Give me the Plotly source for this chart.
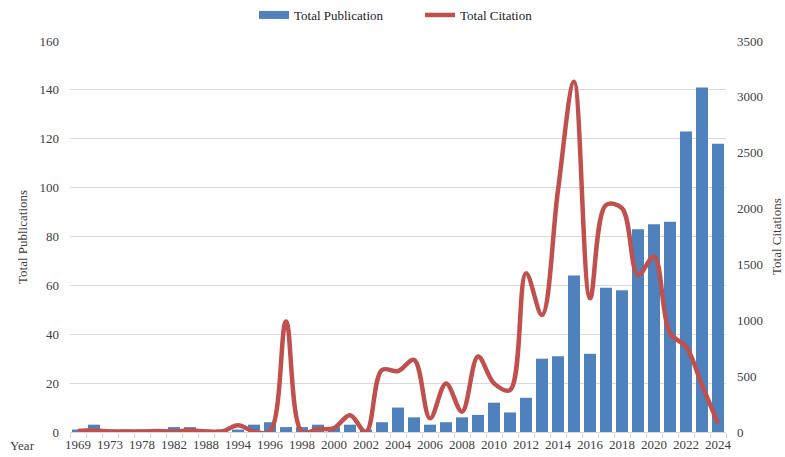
import plotly.graph_objects as go

years = ["1969", "1971", "1973", "1976", "1978", "1980", "1982", "1985", "1988", "1991",
         "1994", "1995", "1996", "1997", "1998", "1999", "2000", "2001", "2002", "2003",
         "2004", "2005", "2006", "2007", "2008", "2009", "2010", "2011", "2012", "2013",
         "2014", "2015", "2016", "2017", "2018", "2019", "2020", "2021", "2022", "2023", "2024"]

publications = [1, 3, 1, 1, 1, 1, 2, 2, 1, 1,
                1, 3, 4, 2, 2, 3, 2, 3, 1, 4,
                10, 6, 3, 4, 6, 7, 12, 8, 14, 30,
                31, 64, 32, 59, 58, 83, 85, 86, 123, 141, 118]

citations = [10, 15, 5, 5, 5, 10, 5, 15, 5, 5,
             60, 5, 5, 990, 0, 25, 35, 150, 0, 555,
             545, 645, 122, 435, 182, 675, 435, 375, 1420, 1047,
             2165, 3135, 1197, 2032, 2003, 1405, 1570, 884, 764, 420, 78]

label_years = ["1969", "1973", "1978", "1982", "1988", "1994", "1996", "1998", "2000", "2002",
               "2004", "2006", "2008", "2010", "2012", "2014", "2016", "2018", "2020", "2022", "2024"]

xpos = list(range(len(years)))
tickvals = [years.index(y) for y in label_years]

FONT = "Liberation Serif, Times New Roman, serif"
GRID = "#d9d9d9"
TXT = "#404040"
BLUE = "#4f81bd"
RED = "#c0504d"

W, H = 785, 457
ML, MR, MT, MB = 70, 59, 41, 25

fig = go.Figure()
fig.add_trace(go.Bar(
    x=xpos, y=publications, name="Total Publication", showlegend=False,
    legendgroup="pub",
    marker=dict(color=BLUE, line=dict(width=0)),
    customdata=years, hovertemplate="%{customdata}: %{y}<extra></extra>",
))
# legend entry with a wide rectangular swatch (as in the reference)
fig.add_trace(go.Scatter(
    x=[None], y=[None], name="Total Publication", mode="lines", legendgroup="pub",
    line=dict(color=BLUE, width=8), hoverinfo="skip",
))
fig.add_trace(go.Scatter(
    x=xpos, y=citations, name="Total Citation", yaxis="y2", mode="lines",
    line=dict(color=RED, width=4.5, shape="spline", smoothing=1.0),
    customdata=years, hovertemplate="%{customdata}: %{y}<extra></extra>",
))

pw = W - ML - MR
ph = H - MT - MB


def px_x(v):
    return (v - ML) / pw


def px_y(v):
    return (H - MB - v) / ph


fig.update_layout(
    width=W, height=H,
    margin=dict(l=ML, r=MR, t=MT, b=MB, autoexpand=False),
    paper_bgcolor="white", plot_bgcolor="white",
    font=dict(family=FONT, size=13, color=TXT),
    bargap=0.25,
    showlegend=True,
    legend=dict(orientation="h", x=px_x(254), xanchor="left", y=1.0, yanchor="top",
                yref="container", font=dict(family=FONT, size=13, color="#222222"),
                entrywidth=121, entrywidthmode="pixels",
                traceorder="normal", itemclick=False, itemdoubleclick=False),
    xaxis=dict(
        range=[-0.5, len(years) - 0.5],
        tickmode="array", tickvals=tickvals, ticktext=label_years,
        ticks="", showgrid=False, zeroline=False,
        showline=True, linecolor=GRID, linewidth=1,
        tickfont=dict(family=FONT, size=13, color=TXT),
        minor=dict(tickmode="array", tickvals=[i - 0.5 for i in range(len(years) + 1)],
                   ticks="outside", ticklen=5, tickcolor=GRID, showgrid=False),
    ),
    yaxis=dict(
        range=[0, 160], dtick=20, showgrid=True, gridcolor=GRID, gridwidth=1,
        zeroline=False, showline=False, ticks="",
        ticklabelstandoff=10,
        tickfont=dict(family=FONT, size=13, color=TXT),
    ),
    yaxis2=dict(
        range=[0, 3500], dtick=500, overlaying="y", side="right",
        showgrid=False, zeroline=False, showline=False, ticks="",
        ticklabelstandoff=10,
        tickfont=dict(family=FONT, size=13, color=TXT),
    ),
    annotations=[
        dict(text="Total Publications", x=px_x(22), y=px_y(237), xref="paper", yref="paper",
             xanchor="center", yanchor="middle",
             showarrow=False, textangle=-90, font=dict(family=FONT, size=13, color=TXT)),
        dict(text="Total Citations", x=px_x(776), y=px_y(237), xref="paper", yref="paper",
             xanchor="center", yanchor="middle",
             showarrow=False, textangle=-90, font=dict(family=FONT, size=13, color=TXT)),
        dict(text="Year", x=px_x(22), y=px_y(445), xref="paper", yref="paper",
             xanchor="center", yanchor="middle",
             showarrow=False, font=dict(family=FONT, size=13, color=TXT)),
    ],
)

fig.write_html(
    "out.html",
    config={"displayModeBar": False},
    post_script="document.body.style.margin='0';document.body.style.overflow='hidden';",
)
